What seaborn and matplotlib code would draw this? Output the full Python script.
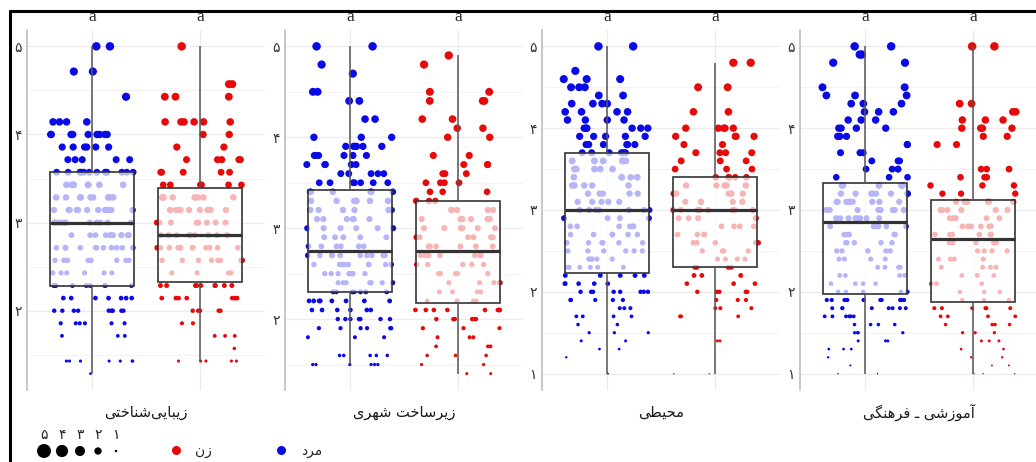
import numpy as np
import pandas as pd
import seaborn as sns
import matplotlib.pyplot as plt
from matplotlib.lines import Line2D
from matplotlib.ticker import MultipleLocator, FuncFormatter

# ---- data ----
genders = ['مرد', 'زن']
panel_titles = ['زیبایی‌شناختی', 'زیرساخت شهری', 'محیطی', 'آموزشی ـ فرهنگی']
group_letters = [['a', 'a'], ['a', 'a'], ['a', 'a'], ['a', 'a']]
size_breaks = [5, 4, 3, 2, 1]
persian_digits = ['۰', '۱', '۲', '۳', '۴', '۵']

# panel 1: mean of 7 items, stored as the item sum
aes_sum7 = [35, 34, 33, 32, 31, 30, 29, 28, 27, 26, 25, 24, 23, 22,
            21, 20, 19, 18, 17, 16, 15, 14, 13, 12, 11, 10, 9]
aes_male_n = [2, 0, 2, 0, 2, 0, 4, 9, 6, 5, 12, 9, 10, 12,
              12, 11, 11, 9, 6, 9, 7, 9, 6, 3, 0, 7, 1]
aes_female_n = [1, 0, 0, 2, 3, 0, 6, 2, 2, 5, 5, 6, 10, 11,
                8, 9, 12, 8, 4, 9, 7, 5, 2, 3, 1, 5, 0]

# panel 2
urb_male_vals = [5.0, 4.8, 4.7, 4.5, 4.4, 4.2, 4.0, 3.9, 3.8, 3.7, 3.6, 3.5, 3.4, 3.3, 3.2, 3.1,
                 3.0, 2.9, 2.8, 2.7, 2.6, 2.5, 2.4, 2.3, 2.2, 2.1, 2.0, 1.9, 1.8, 1.6, 1.5]
urb_male_n = [2, 1, 1, 2, 2, 2, 3, 6, 6, 5, 5, 7, 6, 7, 6, 6,
              6, 5, 6, 11, 9, 8, 8, 7, 8, 6, 7, 6, 3, 5, 6]
urb_female_vals = [4.9, 4.8, 4.5, 4.4, 4.2, 4.1, 4.0, 3.8, 3.7, 3.6, 3.5, 3.4, 3.3, 3.2, 3.1, 3.0,
                   2.9, 2.8, 2.7, 2.6, 2.5, 2.4, 2.3, 2.2, 2.1, 2.0, 1.9, 1.8, 1.7, 1.6, 1.5, 1.4]
urb_female_n = [1, 1, 2, 3, 2, 2, 2, 2, 3, 3, 4, 3, 3, 5, 6, 6,
                6, 6, 7, 5, 5, 5, 4, 4, 8, 6, 3, 3, 3, 3, 2, 2]

# panel 3
env_male_vals = [5.0, 4.7, 4.6, 4.5, 4.4, 4.3, 4.2, 4.1, 4.0, 3.9, 3.8, 3.7, 3.6, 3.5, 3.4, 3.3, 3.2,
                 3.1, 3.0, 2.9, 2.8, 2.7, 2.6, 2.5, 2.4, 2.3, 2.2, 2.1, 2.0, 1.9, 1.8, 1.7, 1.6,
                 1.5, 1.4, 1.3, 1.2, 1.0]
env_male_n = [2, 1, 3, 3, 2, 4, 4, 4, 6, 5, 6, 6, 6, 5, 5, 5, 5,
              5, 7, 4, 6, 6, 6, 6, 6, 6, 5, 5, 8, 5, 3, 4, 2,
              3, 2, 2, 1, 2]
env_female_vals = [4.8, 4.5, 4.2, 4.0, 3.9, 3.8, 3.7, 3.6, 3.5, 3.4, 3.3, 3.2, 3.1, 3.0, 2.9,
                   2.8, 2.7, 2.6, 2.5, 2.4, 2.3, 2.2, 2.1, 2.0, 1.9, 1.8, 1.7, 1.4, 1.0]
env_female_n = [2, 2, 2, 5, 4, 2, 4, 3, 3, 5, 5, 5, 5, 8, 5,
                4, 4, 5, 4, 4, 4, 3, 3, 5, 3, 3, 3, 2, 2]

# panel 4
edu_male_vals = [5.0, 4.9, 4.8, 4.5, 4.4, 4.3, 4.2, 4.1, 4.0, 3.9, 3.8, 3.7, 3.6, 3.5, 3.4, 3.3,
                 3.2, 3.1, 3.0, 2.9, 2.8, 2.7, 2.6, 2.5, 2.4, 2.3, 2.2, 2.1, 2.0, 1.9, 1.8, 1.7,
                 1.6, 1.5, 1.4, 1.3, 1.2, 1.1, 1.0]
edu_male_n = [2, 2, 2, 2, 3, 3, 3, 3, 4, 3, 2, 3, 3, 4, 3, 8,
              8, 9, 9, 8, 6, 5, 5, 5, 4, 4, 4, 4, 5, 10, 8, 6,
              4, 4, 3, 3, 1, 1, 2]
edu_female_vals = [5.0, 4.3, 4.2, 4.1, 4.0, 3.9, 3.8, 3.5, 3.4, 3.3, 3.2, 3.1, 3.0, 2.9, 2.8, 2.7,
                   2.6, 2.5, 2.4, 2.3, 2.2, 2.1, 2.0, 1.9, 1.8, 1.7, 1.6, 1.5, 1.4, 1.3, 1.2, 1.1, 1.0]
edu_female_n = [2, 2, 2, 3, 4, 2, 2, 3, 3, 3, 3, 6, 6, 5, 6, 6,
                5, 4, 4, 4, 3, 3, 3, 3, 6, 4, 4, 3, 3, 2, 2, 2, 3]

colors = {genders[0]: '#0a0ae6', genders[1]: '#e60a0a'}

# ---- minimal Persian shaping (matplotlib has no complex text layout) ----
FORMS = {
    '\u0627': ('\uFE8D', '\uFE8E'), '\u0622': ('\uFE81', '\uFE82'),
    '\u0628': ('\uFE8F', '\uFE90', '\uFE91', '\uFE92'),
    '\u062A': ('\uFE95', '\uFE96', '\uFE97', '\uFE98'),
    '\u062D': ('\uFEA1', '\uFEA2', '\uFEA3', '\uFEA4'),
    '\u062E': ('\uFEA5', '\uFEA6', '\uFEA7', '\uFEA8'),
    '\u062F': ('\uFEA9', '\uFEAA'), '\u0631': ('\uFEAD', '\uFEAE'),
    '\u0632': ('\uFEAF', '\uFEB0'),
    '\u0633': ('\uFEB1', '\uFEB2', '\uFEB3', '\uFEB4'),
    '\u0634': ('\uFEB5', '\uFEB6', '\uFEB7', '\uFEB8'),
    '\u0637': ('\uFEC1', '\uFEC2', '\uFEC3', '\uFEC4'),
    '\u0641': ('\uFED1', '\uFED2', '\uFED3', '\uFED4'),
    '\u0645': ('\uFEE1', '\uFEE2', '\uFEE3', '\uFEE4'),
    '\u0646': ('\uFEE5', '\uFEE6', '\uFEE7', '\uFEE8'),
    '\u0647': ('\uFEE9', '\uFEEA', '\uFEEB', '\uFEEC'),
    '\u0648': ('\uFEED', '\uFEEE'),
    '\u06CC': ('\uFBFC', '\uFBFD', '\uFBFE', '\uFBFF'),
    '\u06AF': ('\uFB92', '\uFB93', '\uFB94', '\uFB95'),
}


def shape(text):
    chars = list(text.replace('\u064A', '\u06CC'))

    def links_next(c):
        return (c in FORMS and len(FORMS[c]) == 4) or c == '\u0640'

    def links_prev(c):
        return c in FORMS or c == '\u0640'

    out = []
    for i, c in enumerate(chars):
        if c not in FORMS:
            if c != '\u200c':
                out.append(c)
            continue
        prev = chars[i - 1] if i > 0 else ''
        nxt = chars[i + 1] if i + 1 < len(chars) else ''
        p = links_next(prev)
        n = links_next(c) and links_prev(nxt)
        f = FORMS[c]
        if p and n:
            out.append(f[3])
        elif p:
            out.append(f[1])
        elif n:
            out.append(f[2])
        else:
            out.append(f[0])
    return ''.join(reversed(out))


def point_area(v, d1=1.5, d5=8.5):
    # ggplot-like size scale: area linear in value, diameters in pixels
    d2 = d1 ** 2 + (np.asarray(v, dtype=float) - 1) / 4 * (d5 ** 2 - d1 ** 2)
    return d2 * 0.72 ** 2


def build(m_vals, m_n, f_vals, f_n):
    return pd.DataFrame({
        'gender': [genders[0]] * sum(m_n) + [genders[1]] * sum(f_n),
        'score': np.concatenate([np.repeat(m_vals, m_n), np.repeat(f_vals, f_n)]),
    })


panels = [
    build(np.array(aes_sum7) / 7, aes_male_n, np.array(aes_sum7) / 7, aes_female_n),
    build(urb_male_vals, urb_male_n, urb_female_vals, urb_female_n),
    build(env_male_vals, env_male_n, env_female_vals, env_female_n),
    build(edu_male_vals, edu_male_n, edu_female_vals, edu_female_n),
]

sns.set_style('white')
plt.rcParams['font.family'] = ['DejaVu Sans']
np.random.seed(3)

W, H = 1036, 462
fig = plt.figure(figsize=(W / 100, H / 100), dpi=100)
lefts = [27, 285, 542, 800]

for k, df in enumerate(panels):
    ax = fig.add_axes([lefts[k] / W, 72 / H, 238 / W, 360 / H])
    n0 = len(ax.collections)
    sns.stripplot(data=df, x='gender', y='score', hue='gender', order=genders,
                  hue_order=genders, palette=colors, jitter=0.4, size=4,
                  linewidth=0, legend=False, ax=ax)
    for coll in ax.collections[n0:]:
        coll.set_sizes(point_area(coll.get_offsets()[:, 1]))
        coll.set_zorder(1.5)
    n_lines = len(ax.lines)
    n_patches = len(ax.patches)
    sns.boxplot(data=df, x='gender', y='score', order=genders, width=0.77,
                color='white', linecolor='#333333', linewidth=1.2,
                whis=(0, 100), showfliers=False, showcaps=False,
                medianprops={'linewidth': 2.3},
                whiskerprops={'color': '#555555', 'linewidth': 1.1}, ax=ax)
    # translucent white boxes over the points, as in the original
    for patch in ax.patches[n_patches:]:
        patch.set_facecolor((1, 1, 1, 0.7))
        patch.set_edgecolor('#333333')
        patch.set_zorder(2.2)
    for line in ax.lines[n_lines:]:
        line.set_zorder(2.4)
    ax.set_xlim(-0.6, 1.6)
    ax.set_xlabel('')
    ax.set_ylabel('')
    ax.yaxis.set_major_locator(MultipleLocator(1))
    ax.yaxis.set_minor_locator(MultipleLocator(0.5))
    ax.yaxis.set_major_formatter(FuncFormatter(
        lambda v, p: persian_digits[int(round(v))] if 0 <= round(v) <= 5 else ''))
    ax.set_xticks([0, 1])
    ax.set_xticklabels(['', ''])
    ax.tick_params(axis='both', which='both', length=0)
    ax.tick_params(axis='y', labelsize=10, labelcolor='#333333', pad=4)
    ax.grid(True, which='major', color='#ebebeb', linewidth=0.9)
    ax.grid(True, which='minor', axis='y', color='#f3f3f3', linewidth=0.7)
    ax.set_axisbelow(True)
    for side in ['top', 'right', 'bottom']:
        ax.spines[side].set_visible(False)
    ax.spines['left'].set_color('#bdbdbd')
    ax.spines['left'].set_linewidth(1.2)
    for i, letter in enumerate(group_letters[k]):
        ax.annotate(letter, xy=(i, 1), xycoords=('data', 'axes fraction'),
                    xytext=(0, 6.2), textcoords='offset points', ha='center',
                    va='baseline', fontsize=12.5, family='Liberation Serif')
    ax.annotate(shape(panel_titles[k]), xy=(0.5, 0), xycoords='axes fraction',
                xytext=(0, -16), textcoords='offset points', ha='center',
                va='center', fontsize=10.5, color='#1a1a1a')

# size legend
lax = fig.add_axes([35 / W, 3 / H, 90 / W, 16 / H])
lax.scatter(range(len(size_breaks)), [0] * len(size_breaks),
            s=point_area(size_breaks, 2.5, 14), color='black', linewidth=0)
lax.set_xlim(-0.5, len(size_breaks) - 0.5)
lax.set_ylim(-1, 1)
lax.set_xticks(range(len(size_breaks)))
lax.set_xticklabels([persian_digits[b] for b in size_breaks], fontsize=10)
lax.xaxis.tick_top()
lax.tick_params(length=0, pad=1)
lax.set_yticks([])
for s in lax.spines.values():
    s.set_visible(False)
lax.patch.set_alpha(0)

# colour legend
handles = [Line2D([], [], marker='o', ls='', markersize=6.5, markeredgewidth=0,
                  markerfacecolor=colors[g]) for g in [genders[1], genders[0]]]
fig.legend(handles, [shape(genders[1]), shape(genders[0])], ncol=2,
           loc='center left', bbox_to_anchor=(170 / W, 11 / H), frameon=False,
           borderpad=0, borderaxespad=0, handlelength=0.8, handletextpad=1.0,
           columnspacing=4.6, fontsize=10)

# outer frame lines
fig.add_artist(Line2D([10 / W, 1], [1 - 11 / H, 1 - 11 / H], transform=fig.transFigure,
                      color='black', linewidth=2.2))
fig.add_artist(Line2D([10 / W, 10 / W], [0, 1 - 11 / H], transform=fig.transFigure,
                      color='black', linewidth=2.2))

fig.savefig('out.png', dpi=100)
